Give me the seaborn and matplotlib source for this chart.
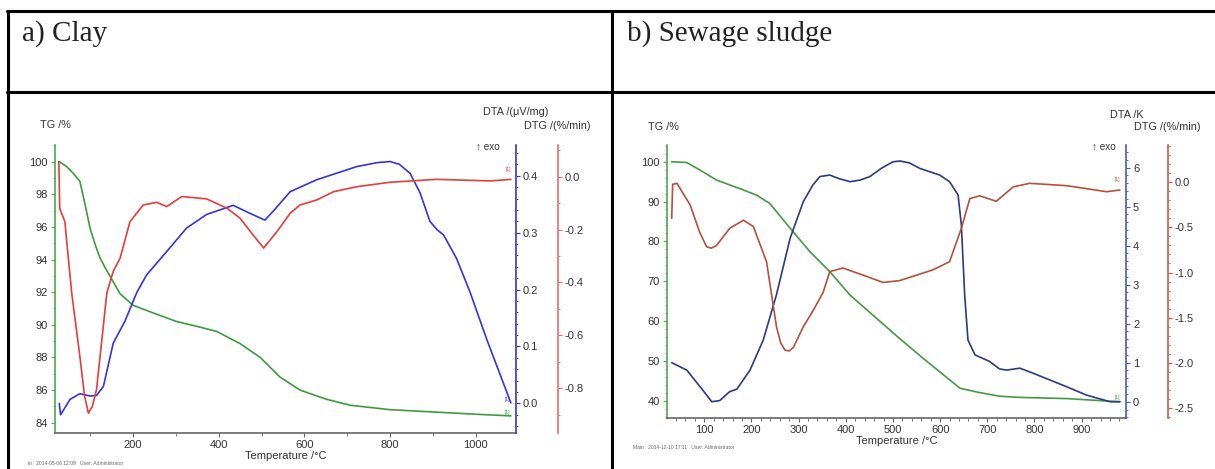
import matplotlib
matplotlib.use("Agg")
import matplotlib.pyplot as plt
import seaborn as sns
from matplotlib.lines import Line2D
from matplotlib.ticker import MultipleLocator

# --- data ---
# a) Clay
clay_tg_t = [28, 45, 60, 76, 88, 100, 112, 123, 135, 146, 170, 200, 250, 302, 350, 395, 450, 497, 543, 590, 650, 707, 800, 900, 1000, 1082]
clay_tg = [100, 99.7, 99.3, 98.8, 97.4, 95.9, 94.9, 94.1, 93.5, 93.0, 91.9, 91.2, 90.7, 90.2, 89.9, 89.6, 88.85, 88.0, 86.8, 86.0, 85.45, 85.07, 84.8, 84.66, 84.52, 84.42]

clay_dta_t = [28, 31, 45, 53, 76, 100, 115, 131, 154, 181, 209, 232, 279, 325, 372, 434, 470, 508, 530, 567, 629, 722, 770, 800, 822, 847, 870, 893, 910, 925, 955, 987, 1026, 1082]
clay_dta = [0.0, -0.02, -0.003, 0.007, 0.017, 0.013, 0.014, 0.03, 0.106, 0.144, 0.195, 0.226, 0.267, 0.308, 0.332, 0.348, 0.335, 0.322, 0.34, 0.372, 0.393, 0.416, 0.423, 0.425, 0.42, 0.404, 0.37, 0.32, 0.305, 0.296, 0.255, 0.195, 0.112, 0.001]

clay_dtg_t = [27, 29, 41, 57, 76, 87, 96, 105, 115, 139, 154, 170, 193, 224, 255, 279, 314, 372, 419, 450, 480, 505, 536, 567, 590, 629, 668, 722, 800, 909, 1035, 1082]
clay_dtg = [0.057, -0.12, -0.17, -0.44, -0.68, -0.83, -0.895, -0.87, -0.805, -0.44, -0.358, -0.308, -0.17, -0.107, -0.097, -0.113, -0.075, -0.084, -0.119, -0.157, -0.22, -0.27, -0.208, -0.138, -0.107, -0.088, -0.057, -0.038, -0.021, -0.01, -0.016, -0.01]

# b) Sewage sludge
sludge_tg_t = [31, 63, 91, 126, 183, 211, 239, 282, 324, 366, 409, 514, 560, 642, 680, 726, 769, 868, 981]
sludge_tg = [100, 99.8, 97.9, 95.4, 92.9, 91.6, 89.5, 83.3, 77.4, 72.4, 66.5, 55.6, 51.0, 43.1, 42.1, 41.1, 40.8, 40.5, 39.7]

sludge_dta_t = [31, 63, 91, 116, 133, 154, 169, 197, 225, 253, 282, 310, 330, 345, 366, 385, 409, 430, 451, 475, 500, 515, 535, 557, 599, 620, 638, 645, 652, 659, 674, 705, 726, 741, 769, 797, 868, 910, 960, 981]
sludge_dta = [1.0, 0.81, 0.385, 0.0, 0.03, 0.26, 0.32, 0.81, 1.58, 2.74, 4.19, 5.13, 5.55, 5.77, 5.81, 5.72, 5.64, 5.68, 5.77, 5.98, 6.15, 6.17, 6.12, 5.98, 5.81, 5.64, 5.3, 4.53, 2.74, 1.58, 1.2, 1.03, 0.84, 0.81, 0.86, 0.73, 0.385, 0.17, 0.0, 0.0]

sludge_dtg_t = [31, 33, 42, 70, 90, 105, 115, 126, 154, 183, 204, 232, 253, 262, 271, 280, 289, 310, 331, 352, 366, 394, 437, 479, 514, 585, 620, 645, 663, 684, 719, 755, 790, 868, 953, 981]
sludge_dtg = [-0.4, -0.022, -0.011, -0.25, -0.55, -0.715, -0.73, -0.70, -0.51, -0.42, -0.49, -0.88, -1.6, -1.78, -1.86, -1.87, -1.83, -1.6, -1.42, -1.22, -0.99, -0.95, -1.03, -1.11, -1.09, -0.97, -0.88, -0.51, -0.18, -0.15, -0.21, -0.05, -0.011, -0.037, -0.104, -0.085]

sns.set_style("white")
plt.rcParams['font.family'] = ['Liberation Sans', 'DejaVu Sans']

W, H = 1215, 469
fig = plt.figure(figsize=(W / 100, H / 100), dpi=100)


def fx(x):
    return x / W


def fy(y):
    return 1 - y / H


def make_panel(box, xlim, tg_lim, dta_lim, dtg_lim, cols, loc):
    # box = (left, top, right, bottom) in pixels
    l, t, r, b = box
    ax = fig.add_axes([fx(l), fy(b), fx(r - l), (b - t) / H])
    ax.set_facecolor('none')
    ax2 = ax.twinx()
    ax3 = ax.twinx()
    green, blue, red, spine_red = cols

    ax.set_xlim(*xlim)
    ax.set_ylim(*tg_lim)
    ax2.set_ylim(*dta_lim)
    ax3.set_ylim(*dtg_lim)

    for a in (ax, ax2, ax3):
        for s in a.spines.values():
            s.set_visible(False)
    ax.spines['left'].set_visible(True)
    ax.spines['left'].set_color('#4caa4c')
    ax.spines['bottom'].set_visible(True)
    ax.spines['bottom'].set_color('#666666')
    ax2.spines['right'].set_visible(True)
    ax2.spines['right'].set_color(blue)
    ax3.spines['right'].set_visible(True)
    ax3.spines['right'].set_color(spine_red)
    ax3.spines['right'].set_position(('outward', 41.5 * 0.72))
    for s in (ax.spines['left'], ax.spines['bottom'], ax2.spines['right'], ax3.spines['right']):
        s.set_linewidth(1.2)

    ax.xaxis.set_major_locator(MultipleLocator(loc[0]))
    ax.xaxis.set_minor_locator(MultipleLocator(loc[1]))
    ax.yaxis.set_major_locator(MultipleLocator(loc[2]))
    ax.yaxis.set_minor_locator(MultipleLocator(loc[3]))
    ax2.yaxis.set_major_locator(MultipleLocator(loc[4]))
    ax2.yaxis.set_minor_locator(MultipleLocator(loc[5]))
    ax3.yaxis.set_major_locator(MultipleLocator(loc[6]))
    ax3.yaxis.set_minor_locator(MultipleLocator(loc[7]))

    ax.tick_params(axis='x', which='both', direction='out', color='#666666', labelcolor='#333333',
                   labelsize=8, bottom=True, pad=2)
    ax.tick_params(axis='x', which='major', length=3)
    ax.tick_params(axis='x', which='minor', length=2)
    ax.tick_params(axis='y', which='both', direction='out', color='#4caa4c', labelcolor='#333333',
                   labelsize=8, left=True, pad=2)
    ax.tick_params(axis='y', which='major', length=3)
    ax.tick_params(axis='y', which='minor', length=1.5)
    for a, c in ((ax2, blue), (ax3, spine_red)):
        a.tick_params(axis='y', which='both', direction='out', color=c, labelcolor='#333333',
                      labelsize=8, right=True, pad=2)
        a.tick_params(axis='y', which='major', length=3)
        a.tick_params(axis='y', which='minor', length=1.5)
    ax.set_xlabel('')
    return ax, ax2, ax3


# --- a) Clay ---
cols_a = ('#3f9a3f', '#3434dc', '#e63c3c', '#ee6a6a')
axA, axA2, axA3 = make_panel((55, 145, 516, 433), (18, 1094), (83.37, 101.02), (-0.052, 0.454), (-0.97, 0.12),
                             cols_a, (200, 100, 2, 1, 0.1, 0.02, 0.2, 0.1))
sns.lineplot(x=clay_tg_t, y=clay_tg, ax=axA, color=cols_a[0], lw=1.2, estimator=None)
sns.lineplot(x=clay_dta_t, y=clay_dta, ax=axA2, color=cols_a[1], lw=1.2, estimator=None)
sns.lineplot(x=clay_dtg_t, y=clay_dtg, ax=axA3, color=cols_a[2], lw=1.2, estimator=None)
axA3.yaxis.set_major_formatter(plt.FuncFormatter(lambda v, p: f'{v:.1f}'))

# --- b) Sewage sludge ---
cols_b = ('#449a44', '#2c3a82', '#b4503c', '#c85a46')
axB, axB2, axB3 = make_panel((667, 145, 1126, 417.7), (21, 994), (35.7, 104.2), (-0.41, 6.58), (-2.61, 0.414),
                             cols_b, (100, 20, 10, 2, 1, 0.2, 0.5, 0.1))
axB2.spines['right'].set_color('#4a58c0')
axB2.tick_params(axis='y', which='both', color='#4a58c0')
sns.lineplot(x=sludge_tg_t, y=sludge_tg, ax=axB, color=cols_b[0], lw=1.2, estimator=None)
sns.lineplot(x=sludge_dta_t, y=sludge_dta, ax=axB2, color=cols_b[1], lw=1.2, estimator=None)
sns.lineplot(x=sludge_dtg_t, y=sludge_dtg, ax=axB3, color=cols_b[2], lw=1.2, estimator=None)
axB3.yaxis.set_major_formatter(plt.FuncFormatter(lambda v, p: f'{v:.1f}'))

# --- axis titles and small texts ---
txt = dict(fontsize=7.8, color='#333333')
fig.text(fx(40), fy(125), 'TG /%', ha='left', va='center', **txt)
fig.text(fx(548), fy(112), 'DTA /(μV/mg)', ha='right', va='center', **txt)
fig.text(fx(591), fy(126), 'DTG /(%/min)', ha='right', va='center', **txt)
fig.text(fx(476), fy(147), '↑ exo', ha='left', va='center', fontsize=7.2, color='#333333')
fig.text(fx(286), fy(456), 'Temperature /°C', ha='center', va='center', fontsize=8, color='#333333')
fig.text(fx(28), fy(463), 'in   2014-05-06 12:09   User: Administrator', ha='left', va='center',
         fontsize=3.6, color='#666666')

fig.text(fx(648), fy(127), 'TG /%', ha='left', va='center', **txt)
fig.text(fx(1144), fy(115), 'DTA /K', ha='right', va='center', **txt)
fig.text(fx(1201), fy(127), 'DTG /(%/min)', ha='right', va='center', **txt)
fig.text(fx(1092), fy(147), '↑ exo', ha='left', va='center', fontsize=7.2, color='#333333')
fig.text(fx(897), fy(441), 'Temperature /°C', ha='center', va='center', fontsize=8, color='#333333')
fig.text(fx(633), fy(447), 'Main   2014-12-10 17:11   User: Administrator', ha='left', va='center',
         fontsize=3.6, color='#666666')

# curve end markers
mk = dict(fontsize=3.5, ha='center', va='center')
fig.text(fx(508), fy(169), '[1]', color=cols_a[2], **mk)
fig.text(fx(507), fy(400), '[1]', color=cols_a[1], **mk)
fig.text(fx(507), fy(412), '[1]', color=cols_a[0], **mk)
fig.text(fx(1117), fy(180), '[1]', color=cols_b[2], **mk)
fig.text(fx(1117), fy(398), '[1]', color=cols_b[0], **mk)

# --- table frame and headers ---
serif = ['Liberation Serif', 'DejaVu Serif']
fig.text(fx(22), fy(40.5), 'a) Clay', ha='left', va='baseline', fontsize=21, family=serif, color='#222222')
fig.text(fx(627), fy(40.5), 'b) Sewage sludge', ha='left', va='baseline', fontsize=21, family=serif,
         color='#222222')
for xs, ys in (((7, W), (11, 11)), ((7, W), (92, 92)), ((8, 8), (11, H)), ((612, 612), (11, H))):
    fig.add_artist(Line2D([fx(v) for v in xs], [fy(v) for v in ys], color='black', lw=2.2))

fig.savefig('out.png', dpi=100)
plt.close()
